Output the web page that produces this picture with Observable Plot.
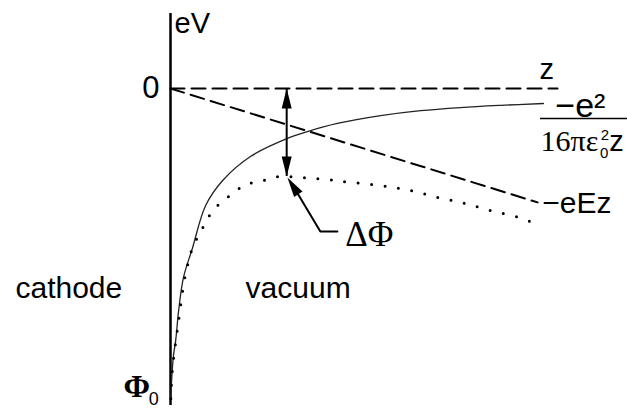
<!DOCTYPE html>
<html>
<head>
<meta charset="utf-8">
<script src="https://cdn.jsdelivr.net/npm/d3@7"></script>
<script src="https://cdn.jsdelivr.net/npm/@observablehq/plot@0.6"></script>
<style>
  body { margin: 0; background: #fff; }
  svg { display: block; }
</style>
</head>
<body>
<div id="chart"></div>
<script>
// Schottky barrier lowering: potential energy (eV) versus distance z from the cathode.

// Image-charge potential  -e^2 / (16 pi eps0 z)
const imageZ = [0.01, 0.03, 0.08, 0.14, 0.22, 0.35, 0.59, 0.95, 1.41, 2.16, 3.16, 3.70, 4.51, 5.68, 6.76, 7.84, 8.92, 10.08];
const imageE = [-9.94, -9.36, -8.56, -8.08, -7.12, -6.06, -5.13, -3.75, -2.95, -2.18, -1.60, -1.38, -1.12, -0.87, -0.71, -0.61, -0.54, -0.48];

// Applied-field potential  -eEz
const fieldZ = [0, 9.92];
const fieldE = [0, -3.65];

// Vacuum level (zero of energy)
const zeroZ = [0, 10.46];
const zeroE = [0, 0];

// Total potential (image + field)
const totalZ = [0.01, 0.05, 0.22, 0.41, 0.62, 0.81, 1.00, 1.30, 1.68, 2.03, 2.43, 2.78, 3.14, 3.51, 3.86, 4.24, 4.65, 5.68, 6.49, 7.22, 7.97, 8.65, 9.41, 9.78];
const totalE = [-9.94, -9.04, -7.44, -5.93, -5.03, -4.62, -4.17, -3.72, -3.37, -3.08, -2.98, -2.85, -2.82, -2.85, -2.88, -2.92, -2.98, -3.11, -3.27, -3.49, -3.69, -3.91, -4.13, -4.29];

// Barrier maximum: position and lowering ΔΦ
const peakZ = 3.14;
const lowering = -2.82;

// Work function level Φ0 and extent of the energy axis
const phi0 = -9.94;
const axisTop = 2.4;
const axisBottom = -10.16;

// Energy-axis tick
const yTicks = [0];

const pts = (Z, E) => Z.map((z, i) => ({z, e: E[i]}));

const sans = "'Liberation Sans', Arial, Helvetica, sans-serif";
const serif = "'Liberation Serif', 'Times New Roman', serif";

// Narrow filled arrowhead, tip at the origin, pointing up
const head = {
  draw(ctx) {
    ctx.moveTo(0, 0);
    ctx.lineTo(-5, 20);
    ctx.lineTo(5, 20);
    ctx.closePath();
  }
};

function label(text, z, e, opts = {}) {
  return Plot.text([text], {
    x: () => z, y: () => e, text: d => d,
    fill: "black", fontFamily: sans, fontSize: 30,
    textAnchor: "start", lineAnchor: "bottom", ...opts
  });
}

const chart = Plot.plot({
  width: 627,
  height: 410,
  x: {domain: [0, 10], range: [170, 540], axis: null},
  y: {domain: [-10, 0], range: [400, 88], axis: null},
  style: {background: "white", overflow: "visible"},
  marks: [
    // energy axis
    Plot.ruleX([0], {y1: () => axisBottom, y2: () => axisTop, stroke: "black", strokeWidth: 2.5}),
    // vacuum level
    Plot.line(pts(zeroZ, zeroE), {x: "z", y: "e", stroke: "black", strokeWidth: 2, strokeDasharray: "14,7"}),
    // -eEz
    Plot.line(pts(fieldZ, fieldE), {x: "z", y: "e", stroke: "black", strokeWidth: 2, strokeDasharray: "14,7"}),
    // image potential
    Plot.line(pts(imageZ, imageE), {x: "z", y: "e", curve: "catmull-rom", stroke: "#222", strokeWidth: 1.3}),
    // total potential
    Plot.line(pts(totalZ, totalE), {x: "z", y: "e", curve: "catmull-rom", stroke: "black", strokeWidth: 3, strokeDasharray: "0,13.5", strokeLinecap: "round"}),
    // ΔΦ double arrow
    Plot.ruleX([peakZ], {y1: () => 0, y2: () => lowering, stroke: "black", strokeWidth: 2}),
    Plot.dot([0, lowering], {x: () => peakZ, y: d => d, symbol: head, rotate: d => d === 0 ? 0 : 180, fill: "black", stroke: "none"}),
    // pointer to ΔΦ label
    Plot.line([{z: 4.51, e: -4.58}, {z: 4.05, e: -4.58}, {z: 3.27, e: -3.04}], {x: "z", y: "e", stroke: "black", strokeWidth: 2}),
    Plot.dot([lowering], {x: () => peakZ + 0.02, y: d => d - 0.03, symbol: head, rotate: -33, fill: "black", stroke: "none"}),
    // tick label
    Plot.text(yTicks, {x: () => -0.3, y: d => d, text: d => String(d), textAnchor: "end", lineAnchor: "middle", fontFamily: sans, fontSize: 31, fill: "black"}),
    // labels
    label("eV", 0.11, 1.79, {fontSize: 29}),
    label("z", 9.97, 0.29, {fontSize: 29}),
    label("\u2212e\u00b2", 10.4, -0.90, {fontSize: 34}),
    Plot.ruleY([-0.96], {x1: () => 10.0, x2: () => 12.35, stroke: "black", strokeWidth: 1.5}),
    label("16\u03c0\u03b5", 10.0, -1.99, {fontFamily: serif, fontSize: 30}),
    label("2", 11.63, -1.65, {fontSize: 15}),
    label("0", 11.61, -2.24, {fontSize: 15}),
    label("z", 11.86, -1.99, {fontSize: 29}),
    label("\u2212eEz", 10.05, -3.69, {fontSize: 30, lineAnchor: "middle"}),
    label("cathode", -4.19, -6.73, {fontSize: 30}),
    label("vacuum", 2.03, -6.70, {fontSize: 30}),
    label("\u0394\u03a6", 4.72, -5.06, {fontFamily: serif, fontSize: 35}),
    label("\u03a6", -0.55, phi0 + 0.04, {fontFamily: serif, fontSize: 32, fontWeight: "bold", textAnchor: "end"}),
    label("0", -0.59, -10.13, {fontSize: 18})
  ]
});

document.getElementById("chart").appendChild(chart);
</script>
</body>
</html>
